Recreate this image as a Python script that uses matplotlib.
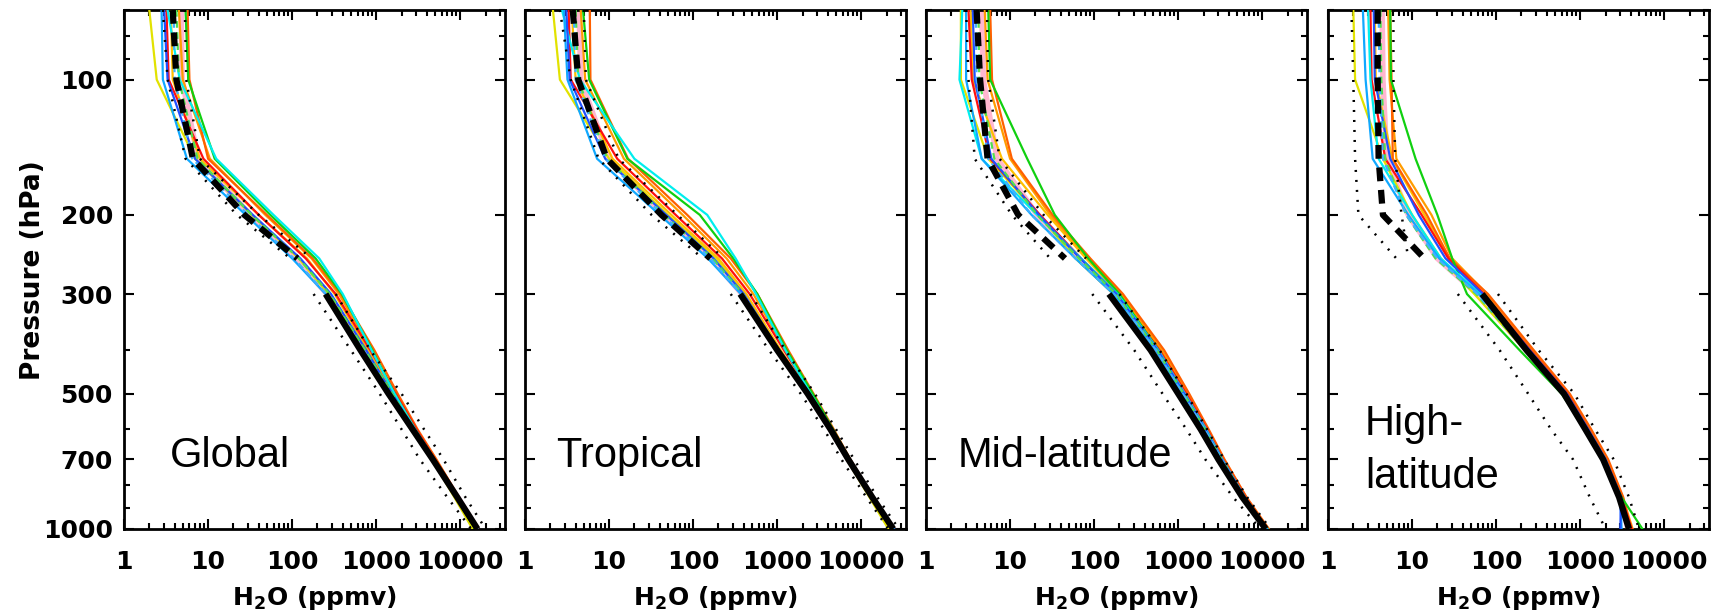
import matplotlib
matplotlib.use("Agg")
import matplotlib.pyplot as plt
from matplotlib.ticker import FixedLocator, NullFormatter, LogLocator

plt.rcParams['font.family'] = ['DejaVu Sans']
plt.rcParams['mathtext.fontset'] = 'dejavusans'

# ---------------- data ----------------
p_model = [70, 100, 150, 200, 250, 300, 400, 500, 600, 700, 850, 1000]
p_upper = [70, 100, 150, 200, 250]
p_lower = [300, 400, 500, 600, 700, 850, 1000]

panel_names = [["Global"], ["Tropical"], ["Mid-latitude"], ["High-", "latitude"]]

model_colors = ['#e2e200', '#ffbf00', '#ff9c00', '#ff6000', '#ff1010', '#10d010',
                '#00eeee', '#10a8ff', '#2050ff', '#ffb6d0', '#50e050', '#40b0ff']

global_models = [
    [2.0, 2.45, 7.0, 33, 120, 270, 700, 1450, 2700, 4600, 8500, 14000],
    [3.6, 3.8, 8.0, 40, 150, 320, 800, 1600, 2900, 4900, 9200, 15500],
    [4.5, 5.0, 10.5, 48, 170, 360, 880, 1700, 3000, 5100, 9500, 16000],
    [5.7, 6.0, 10.0, 50, 175, 380, 950, 1800, 3100, 5200, 9600, 16000],
    [3.2, 3.4, 8.8, 40, 145, 330, 850, 1700, 3000, 5000, 9400, 15500],
    [5.4, 5.8, 12.0, 55, 190, 390, 900, 1650, 2900, 4900, 9000, 15000],
    [3.3, 4.6, 12.5, 60, 210, 400, 880, 1650, 2900, 4900, 9200, 15500],
    [2.8, 2.9, 5.6, 28, 100, 250, 700, 1500, 2800, 4800, 9300, 16000],
    [3.0, 3.3, 7.0, 34, 125, 290, 760, 1550, 2850, 4850, 9300, 15800],
    [4.8, 4.9, 7.6, 32, 110, 260, 720, 1500, 2800, 4800, 9300, 16000],
    [4.2, 4.5, 7.5, 33, 120, 280, 740, 1550, 2850, 4850, 9300, 15500],
    [3.9, 4.0, 6.5, 30, 105, 255, 700, 1480, 2750, 4750, 9200, 15800],
]
tropical_models = [
    [2.15, 2.6, 10, 50, 190, 400, 1050, 2300, 4200, 6700, 12500, 21000],
    [3.6, 4.0, 11, 55, 200, 430, 1100, 2400, 4400, 7000, 13000, 22500],
    [4.6, 5.2, 15, 75, 250, 520, 1250, 2600, 4600, 7300, 13500, 23500],
    [5.9, 6.0, 16.8, 85, 280, 580, 1350, 2700, 4700, 7400, 13800, 24000],
    [3.3, 3.5, 12.5, 62, 220, 470, 1200, 2550, 4500, 7200, 13500, 24000],
    [4.9, 5.8, 16.5, 120, 300, 580, 1300, 2650, 4600, 7300, 13500, 23500],
    [2.75, 4.5, 20, 147, 320, 560, 1250, 2500, 4500, 7100, 13300, 23500],
    [2.9, 3.2, 7.2, 40, 150, 370, 1000, 2300, 4300, 7000, 13500, 24500],
    [3.1, 3.4, 9.0, 48, 175, 400, 1050, 2350, 4350, 7050, 13500, 24000],
    [4.4, 4.6, 10, 45, 165, 380, 1020, 2300, 4300, 7000, 13500, 24000],
    [4.0, 4.3, 9.5, 45, 170, 390, 1030, 2350, 4350, 7000, 13300, 23500],
    [3.8, 4.0, 9.0, 43, 160, 370, 1000, 2300, 4300, 7000, 13400, 24000],
]
midlat_models = [
    [2.6, 2.6, 5.5, 22, 60, 170, 550, 1150, 2100, 3300, 6200, 11500],
    [3.4, 3.6, 8.0, 28, 80, 200, 620, 1250, 2200, 3400, 6300, 11500],
    [5.0, 5.4, 10.0, 30, 85, 210, 640, 1300, 2250, 3500, 6400, 11800],
    [5.8, 6.1, 10.5, 32, 90, 220, 680, 1350, 2300, 3550, 6500, 12000],
    [3.2, 3.5, 5.8, 22.7, 70, 190, 600, 1250, 2200, 3400, 6300, 11500],
    [5.5, 5.8, 16, 34, 85, 200, 580, 1150, 2050, 3200, 6000, 11500],
    [2.7, 2.5, 4.6, 21, 70, 190, 580, 1200, 2150, 3350, 6200, 11500],
    [3.0, 3.0, 4.6, 18, 60, 170, 540, 1120, 2050, 3250, 6100, 11000],
    [3.6, 3.8, 6.0, 22, 68, 185, 570, 1180, 2100, 3300, 6150, 11200],
    [4.6, 4.8, 7.0, 21, 65, 180, 560, 1150, 2080, 3280, 6100, 11000],
    [4.2, 4.3, 6.5, 21, 66, 182, 560, 1160, 2080, 3280, 6100, 11000],
    [3.9, 4.0, 5.5, 18, 60, 172, 545, 1130, 2060, 3260, 6080, 11000],
]
highlat_models = [
    [2.0, 2.1, 4.5, 10, 22, 55, 220, 640, 1200, 1950, 3000, 3600],
    [3.6, 3.7, 5.8, 14, 28, 70, 250, 700, 1280, 2050, 3100, 3900],
    [5.2, 5.4, 6.5, 17, 30, 78, 270, 730, 1320, 2100, 3200, 4200],
    [5.5, 5.7, 5.9, 15, 28, 80, 280, 750, 1350, 2150, 3250, 4000],
    [3.2, 3.3, 4.8, 13, 27, 72, 255, 700, 1250, 2000, 3100, 4100],
    [5.5, 5.6, 11, 20, 30, 45, 190, 600, 1150, 1900, 3100, 5500],
    [3.0, 3.2, 4.0, 10, 22, 65, 240, 680, 1220, 1980, 3050, 3800],
    [2.6, 2.8, 3.4, 9, 21, 62, 235, 670, 1200, 1950, 3000, 3100],
    [3.5, 3.6, 5.5, 12, 25, 70, 250, 690, 1240, 2000, 3050, 3000],
    [4.4, 4.5, 5.0, 9, 20, 60, 230, 660, 1200, 1950, 3000, 3700],
    [4.2, 4.3, 4.8, 8.5, 19, 58, 220, 640, 1180, 1930, 3000, 3900],
    [4.0, 4.1, 4.5, 8.5, 20, 60, 228, 655, 1190, 1940, 3000, 3800],
]

# observations: dashed (upper levels), solid (lower levels)
obs_upper = [
    [3.8, 4.2, 6.6, 27, 115],
    [3.7, 4.3, 9.4, 42, 160],
    [4.0, 4.4, 5.4, 12.5, 45],
    [3.9, 3.9, 4.0, 4.5, 14],
]
obs_lower = [
    [250, 650, 1400, 2700, 4700, 9200, 16000],
    [363, 1000, 2300, 4300, 7000, 13500, 24000],
    [150, 470, 1000, 1850, 3000, 5800, 11000],
    [68, 230, 640, 1150, 1870, 2900, 3800],
]
# uncertainty range (dotted)
range_upper_low = [
    [2.9, 3.3, 5.4, 22, 95],
    [2.6, 3.5, 7.5, 32, 130],
    [3.0, 3.2, 3.8, 10.5, 30],
    [1.9, 2.0, 2.1, 2.3, 6.5],
]
range_upper_high = [
    [5.3, 5.5, 8.0, 40, 170],
    [5.0, 5.3, 13, 65, 230],
    [5.3, 5.5, 7.5, 25, 80],
    [6.0, 6.0, 6.3, 7.5, 9.0],
]
range_lower_low = [
    [180, 500, 1100, 2000, 3300, 7000, 13500],
    [280, 800, 1900, 3600, 5800, 11500, 21000],
    [95, 300, 650, 1250, 2100, 4500, 9500],
    [35, 110, 240, 450, 820, 1300, 2000],
]
range_lower_high = [
    [330, 850, 2000, 3700, 6300, 11500, 20000],
    [480, 1250, 2800, 5000, 8200, 15500, 28000],
    [200, 600, 1250, 2200, 3500, 6600, 12500],
    [105, 320, 850, 1500, 2500, 3800, 5000],
]

x_ticks = [1, 10, 100, 1000, 10000]
x_ticklabels = ["1", "10", "100", "1000", "10000"]
y_ticks = [100, 200, 300, 500, 700, 1000]
y_ticklabels = ["100", "200", "300", "500", "700", "1000"]
y_minor = [70, 80, 90, 400, 600, 800, 900]

all_models = [global_models, tropical_models, midlat_models, highlat_models]

# ---------------- figure ----------------
W, H = 1723, 615
fig = plt.figure(figsize=(W / 100, H / 100), dpi=100)

lefts = [124, 525, 926, 1328]
pw, top, bot = 381, 10, 529
label_x = [0.121, 0.081, 0.084, 0.097]
label_y = [[0.1195], [0.1195], [0.1195], [0.1811, 0.079]]

for i in range(4):
    ax = fig.add_axes([lefts[i] / W, (H - bot) / H, pw / W, (bot - top) / H])
    ax.set_xscale('log')
    ax.set_yscale('log')
    for j, vals in enumerate(all_models[i]):
        c = model_colors[j]
        if j == 9:
            ax.plot(vals, p_model, color=c, lw=4.0, zorder=2)
        elif j in (10, 11):
            ax.plot(vals, p_model, color=c, lw=1.6, ls=(0, (3, 2)), zorder=3)
        else:
            ax.plot(vals, p_model, color=c, lw=1.6, zorder=3)
    dot = (0, (0.8, 3.2))
    ax.plot(range_upper_low[i], p_upper, color='black', lw=1.8, ls=dot, zorder=5)
    ax.plot(range_upper_high[i], p_upper, color='black', lw=1.8, ls=dot, zorder=5)
    ax.plot(range_lower_low[i], p_lower, color='black', lw=1.8, ls=dot, zorder=5)
    ax.plot(range_lower_high[i], p_lower, color='black', lw=1.8, ls=dot, zorder=5)
    ax.plot(obs_upper[i], p_upper, color='black', lw=4.5, ls=(0, (2.2, 1.4)),
            dash_capstyle='butt', zorder=6)
    ax.plot(obs_lower[i], p_lower, color='black', lw=4.5, solid_capstyle='butt', zorder=6)

    ax.set_xlim(1, 34000)
    ax.set_ylim(1000, 70)
    ax.xaxis.set_major_locator(FixedLocator(x_ticks))
    ax.set_xticklabels(x_ticklabels)
    ax.xaxis.set_minor_locator(LogLocator(base=10, subs=range(2, 10)))
    ax.xaxis.set_minor_formatter(NullFormatter())
    ax.yaxis.set_major_locator(FixedLocator(y_ticks))
    ax.yaxis.set_minor_locator(FixedLocator(y_minor))
    ax.yaxis.set_minor_formatter(NullFormatter())
    if i == 0:
        ax.set_yticklabels(y_ticklabels)
    else:
        ax.set_yticklabels([])
    ax.tick_params(which='both', direction='in', top=True, right=True, width=1.5)
    ax.tick_params(which='major', length=7)
    ax.tick_params(which='minor', length=4)
    ax.tick_params(axis='x', which='major', pad=15, labelsize=18)
    ax.tick_params(axis='y', which='major', pad=8, labelsize=18)
    for lab in ax.get_xticklabels() + ax.get_yticklabels():
        lab.set_fontweight('bold')
    for s in ax.spines.values():
        s.set_linewidth(2.0)
    ax.text(0.5, -0.1464, r"H$_\mathbf{2}$O (ppmv)", transform=ax.transAxes,
            ha='center', va='baseline', fontsize=18, fontweight='bold')
    for k, line in enumerate(panel_names[i]):
        ax.text(label_x[i], label_y[i][k], line, transform=ax.transAxes, ha='left',
                va='baseline', fontsize=30, family='Liberation Sans')

fig.text(33 / W, 1 - 270 / H, "Pressure (hPa)", rotation=90, ha='center', va='center',
         fontsize=19, fontweight='bold')

fig.savefig("out.png", dpi=100)
